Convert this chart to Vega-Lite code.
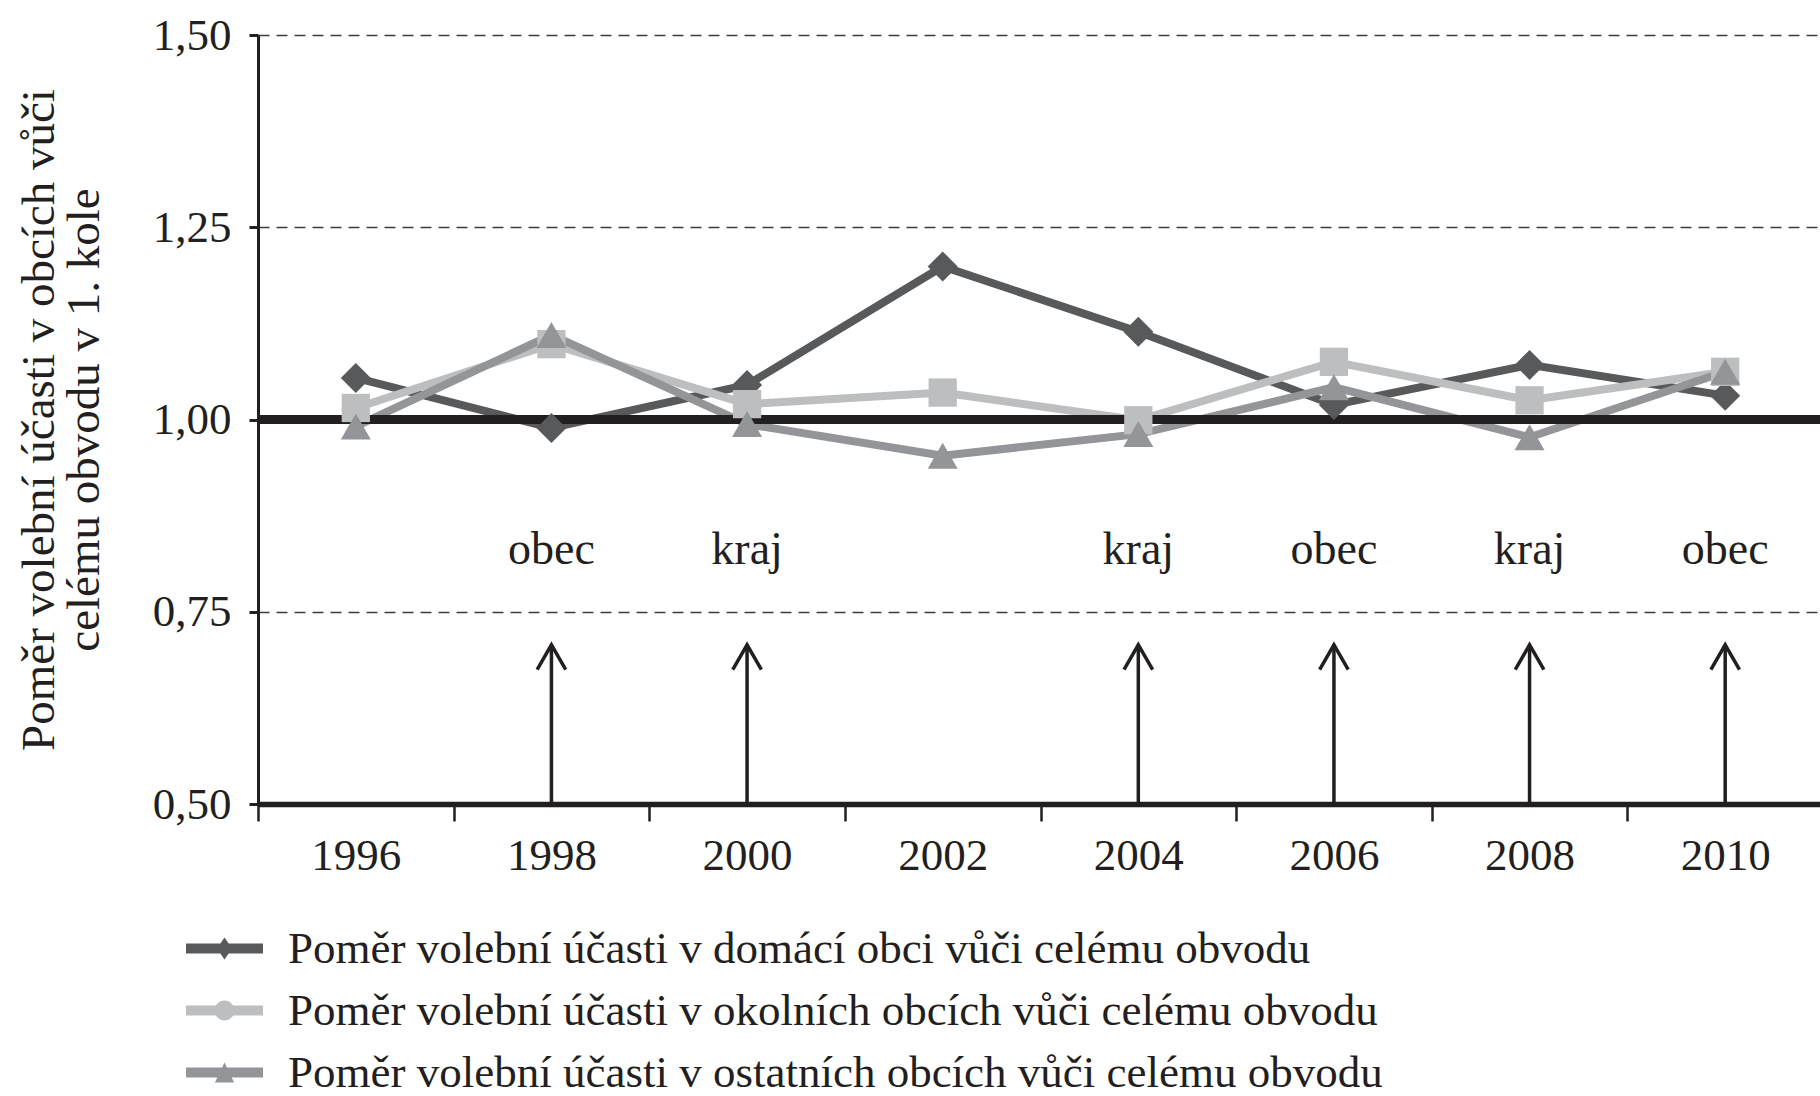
{
  "$schema": "https://vega.github.io/schema/vega-lite/v6.json",
  "width": 1565,
  "height": 769,
  "autosize": {"type": "none"},
  "padding": {"left": 258, "top": 35, "right": 0, "bottom": 292},
  "background": "white",
  "config": {
    "view": {"stroke": null},
    "font": "Liberation Serif",
    "scale": {"bandPaddingInner": 0, "bandPaddingOuter": 0},
    "axisX": {
      "tickBand": "extent",
      "labelAngle": 0,
      "domainColor": "#231f20",
      "domainWidth": 5.5,
      "tickColor": "#231f20",
      "tickWidth": 2.5,
      "tickSize": 17,
      "labelFont": "Liberation Serif",
      "labelFontSize": 45,
      "labelPadding": 12,
      "labelColor": "#231f20",
      "grid": false
    },
    "axisY": {
      "domainColor": "#231f20",
      "domainWidth": 3,
      "tickColor": "#231f20",
      "tickWidth": 3,
      "tickSize": 9,
      "labelFont": "Liberation Serif",
      "labelFontSize": 45,
      "labelPadding": 18,
      "labelColor": "#231f20",
      "grid": true,
      "gridDash": [11, 7],
      "gridColor": "#3d3d3d",
      "gridWidth": 1.6,
      "titleFont": "Liberation Serif",
      "titleFontSize": 47,
      "titleFontWeight": "normal",
      "titleColor": "#231f20",
      "titlePadding": 44,
      "titleLineHeight": 45
    }
  },
  "datasets": {
    "turnout": [
      {"year": "1996", "series": "Poměr volební účasti v domácí obci vůči celému obvodu", "value": 1.054},
      {"year": "1998", "series": "Poměr volební účasti v domácí obci vůči celému obvodu", "value": 0.989},
      {"year": "2000", "series": "Poměr volební účasti v domácí obci vůči celému obvodu", "value": 1.045},
      {"year": "2002", "series": "Poměr volební účasti v domácí obci vůči celému obvodu", "value": 1.199},
      {"year": "2004", "series": "Poměr volební účasti v domácí obci vůči celému obvodu", "value": 1.114},
      {"year": "2006", "series": "Poměr volební účasti v domácí obci vůči celému obvodu", "value": 1.019},
      {"year": "2008", "series": "Poměr volební účasti v domácí obci vůči celému obvodu", "value": 1.071},
      {"year": "2010", "series": "Poměr volební účasti v domácí obci vůči celému obvodu", "value": 1.031},
      {"year": "1996", "series": "Poměr volební účasti v okolních obcích vůči celému obvodu", "value": 1.015},
      {"year": "1998", "series": "Poměr volební účasti v okolních obcích vůči celému obvodu", "value": 1.098},
      {"year": "2000", "series": "Poměr volební účasti v okolních obcích vůči celému obvodu", "value": 1.020},
      {"year": "2002", "series": "Poměr volební účasti v okolních obcích vůči celému obvodu", "value": 1.035},
      {"year": "2004", "series": "Poměr volební účasti v okolních obcích vůči celému obvodu", "value": 0.999},
      {"year": "2006", "series": "Poměr volební účasti v okolních obcích vůči celému obvodu", "value": 1.075},
      {"year": "2008", "series": "Poměr volební účasti v okolních obcích vůči celému obvodu", "value": 1.025},
      {"year": "2010", "series": "Poměr volební účasti v okolních obcích vůči celému obvodu", "value": 1.062},
      {"year": "1996", "series": "Poměr volební účasti v ostatních obcích vůči celému obvodu", "value": 0.991},
      {"year": "1998", "series": "Poměr volební účasti v ostatních obcích vůči celému obvodu", "value": 1.110},
      {"year": "2000", "series": "Poměr volební účasti v ostatních obcích vůči celému obvodu", "value": 0.994},
      {"year": "2002", "series": "Poměr volební účasti v ostatních obcích vůči celému obvodu", "value": 0.953},
      {"year": "2004", "series": "Poměr volební účasti v ostatních obcích vůči celému obvodu", "value": 0.981},
      {"year": "2006", "series": "Poměr volební účasti v ostatních obcích vůči celému obvodu", "value": 1.042},
      {"year": "2008", "series": "Poměr volební účasti v ostatních obcích vůči celému obvodu", "value": 0.977},
      {"year": "2010", "series": "Poměr volební účasti v ostatních obcích vůči celému obvodu", "value": 1.062}
    ],
    "events": [
      {"year": "1998", "label": "obec"},
      {"year": "2000", "label": "kraj"},
      {"year": "2004", "label": "kraj"},
      {"year": "2006", "label": "obec"},
      {"year": "2008", "label": "kraj"},
      {"year": "2010", "label": "obec"}
    ],
    "reference": [{"ref": 1.0}]
  },
  "layer": [
    {
      "data": {"name": "turnout"},
      "mark": {"type": "line", "strokeWidth": 8},
      "encoding": {
        "x": {"field": "year", "type": "ordinal", "title": null, "scale": {"type": "band", "domain": ["1996", "1998", "2000", "2002", "2004", "2006", "2008", "2010"]}},
        "y": {
          "field": "value",
          "type": "quantitative",
          "title": ["Poměr volební účasti v obcích vůči", "celému obvodu v 1. kole"],
          "scale": {"domain": [0.5, 1.5], "nice": false, "zero": false},
          "axis": {
            "values": [0.5, 0.75, 1, 1.25, 1.5],
            "labelExpr": "replace(format(datum.value, '.2f'), '.', ',')"
          }
        },
        "color": {
          "field": "series",
          "type": "nominal",
          "scale": {
            "domain": ["Poměr volební účasti v domácí obci vůči celému obvodu", "Poměr volební účasti v okolních obcích vůči celému obvodu", "Poměr volební účasti v ostatních obcích vůči celému obvodu"],
            "range": ["#58595b", "#bcbec0", "#939598"]
          }
        }
      }
    },
    {
      "data": {"name": "reference"},
      "mark": {"type": "rule", "color": "#231f20", "strokeWidth": 9},
      "encoding": {
        "y": {"field": "ref", "type": "quantitative"}
      }
    },
    {
      "data": {"name": "events"},
      "mark": {"type": "rule", "color": "#231f20", "strokeWidth": 3.5},
      "encoding": {
        "x": {"field": "year", "type": "ordinal", "title": null, "scale": {"type": "band"}},
        "y": {"datum": 0.5, "type": "quantitative"},
        "y2": {"datum": 0.707}
      }
    },
    {
      "data": {"name": "events"},
      "mark": {"type": "point", "shape": "M-0.55,0.95L0,0L0.55,0.95", "filled": false, "stroke": "#231f20", "strokeWidth": 3.5, "size": 2704, "opacity": 1},
      "encoding": {
        "x": {"field": "year", "type": "ordinal", "title": null, "scale": {"type": "band"}},
        "y": {"datum": 0.707, "type": "quantitative"}
      }
    },
    {
      "data": {"name": "events"},
      "mark": {"type": "text", "font": "Liberation Serif", "fontSize": 46, "color": "#231f20", "baseline": "middle", "align": "center"},
      "encoding": {
        "x": {"field": "year", "type": "ordinal", "title": null, "scale": {"type": "band"}},
        "y": {"datum": 0.83, "type": "quantitative"},
        "text": {"field": "label"}
      }
    },
    {
      "data": {"name": "turnout"},
      "transform": [{"filter": "datum.series == 'Poměr volební účasti v domácí obci vůči celému obvodu'"}],
      "mark": {"type": "point", "shape": "diamond", "filled": true, "size": 900, "opacity": 1},
      "encoding": {
        "x": {"field": "year", "type": "ordinal", "title": null, "scale": {"type": "band"}},
        "y": {"field": "value", "type": "quantitative"},
        "color": {"field": "series", "type": "nominal"}
      }
    },
    {
      "data": {"name": "turnout"},
      "transform": [{"filter": "datum.series == 'Poměr volební účasti v okolních obcích vůči celému obvodu'"}],
      "mark": {"type": "point", "shape": "square", "filled": true, "size": 800, "opacity": 1},
      "encoding": {
        "x": {"field": "year", "type": "ordinal", "title": null, "scale": {"type": "band"}},
        "y": {"field": "value", "type": "quantitative"},
        "color": {"field": "series", "type": "nominal"}
      }
    },
    {
      "data": {"name": "turnout"},
      "transform": [{"filter": "datum.series == 'Poměr volební účasti v ostatních obcích vůči celému obvodu'"}],
      "mark": {"type": "point", "shape": "triangle-up", "filled": true, "size": 900, "opacity": 1},
      "encoding": {
        "x": {"field": "year", "type": "ordinal", "title": null, "scale": {"type": "band"}},
        "y": {"field": "value", "type": "quantitative"},
        "color": {"field": "series", "type": "nominal"}
      }
    },
    {
      "data": {"name": "turnout"},
      "transform": [{"filter": "datum.value > 99"}],
      "mark": {"type": "point", "filled": true},
      "encoding": {
        "x": {"field": "year", "type": "ordinal", "title": null, "scale": {"type": "band"}},
        "y": {"field": "value", "type": "quantitative"},
        "color": {
          "field": "series",
          "type": "nominal",
          "legend": {
            "title": null,
            "orient": "none",
            "legendX": -56,
            "legendY": 891,
            "direction": "vertical",
            "padding": 0,
            "symbolSize": 1600,
            "symbolStrokeWidth": 0,
            "symbolOpacity": 1,
            "labelFont": "Liberation Serif",
            "labelFontSize": 45,
            "labelColor": "#231f20",
            "labelOffset": 41,
            "labelLimit": 2000,
            "rowPadding": 16
          }
        },
        "shape": {
          "field": "series",
          "type": "nominal",
          "scale": {
            "domain": ["Poměr volební účasti v domácí obci vůči celému obvodu", "Poměr volební účasti v okolních obcích vůči celému obvodu", "Poměr volební účasti v ostatních obcích vůči celému obvodu"],
            "range": [
              "M-1.925,-0.25H1.925V0.25H-1.925ZM0,-0.55L0.38,0L0,0.55L-0.38,0Z",
              "M-1.925,-0.25H1.925V0.25H-1.925ZM0.5,0A0.5,0.5 0 1,1 -0.5,0A0.5,0.5 0 1,1 0.5,0Z",
              "M-1.925,-0.25H1.925V0.25H-1.925ZM0,-0.5L0.48,0.5H-0.48Z"
            ]
          },
          "legend": {
            "title": null,
            "orient": "none",
            "legendX": -56,
            "legendY": 891,
            "direction": "vertical",
            "padding": 0,
            "symbolSize": 1600,
            "symbolStrokeWidth": 0,
            "symbolOpacity": 1,
            "labelFont": "Liberation Serif",
            "labelFontSize": 45,
            "labelColor": "#231f20",
            "labelOffset": 41,
            "labelLimit": 2000,
            "rowPadding": 16
          }
        }
      }
    }
  ]
}
